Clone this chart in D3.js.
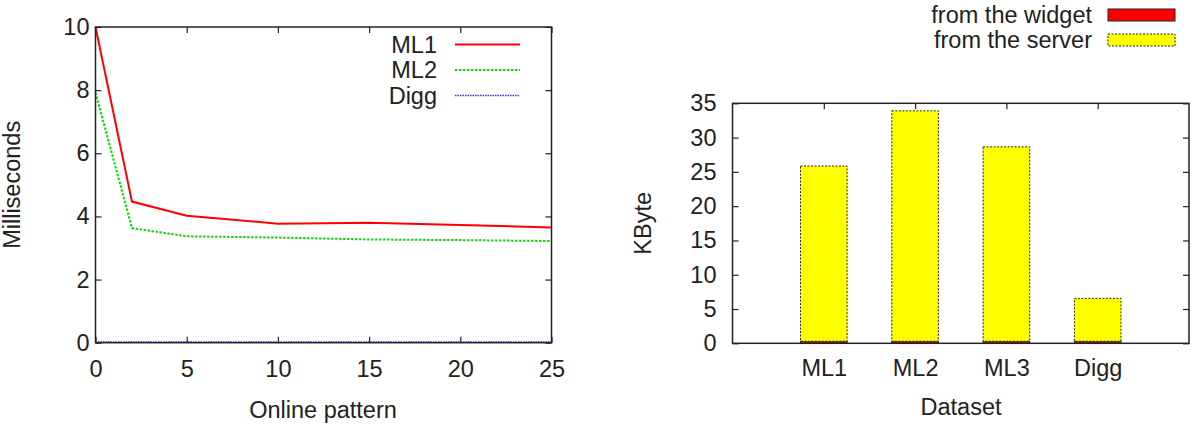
<!DOCTYPE html>
<html>
<head>
<meta charset="utf-8">
<script src="https://cdn.jsdelivr.net/npm/d3@7"></script>
<style>
  body { margin: 0; background: #fff; }
  svg { display: block; }
  svg text { font-family: "Liberation Sans", Arial, sans-serif; font-size: 23.5px; fill: #222; }
</style>
</head>
<body>
<div id="chart"></div>
<script>
// left chart: lookup time per online pattern
const patterns = [0, 2, 5, 10, 15, 20, 25];
const ml1 = [10, 4.47, 4.02, 3.77, 3.80, 3.73, 3.65];
const ml2 = [7.92, 3.63, 3.37, 3.33, 3.27, 3.25, 3.22];
const digg = [0.02, 0.02, 0.02, 0.02, 0.02, 0.02, 0.02];
const lineTicksX = [0, 5, 10, 15, 20, 25];
const lineTicksY = [0, 2, 4, 6, 8, 10];

// right chart: traffic per dataset
const datasets = ["ML1", "ML2", "ML3", "Digg"];
const fromWidget = [0.3, 0.3, 0.3, 0.3];
const fromServer = [25.55, 33.6, 28.35, 6.25];
const barTicksY = [0, 5, 10, 15, 20, 25, 30, 35];

const svg = d3.select("#chart").append("svg")
  .attr("width", 1201)
  .attr("height", 432);

const tickLen = 6;

// ---------- line chart ----------
const L = { left: 95.5, right: 551.5, top: 27, bottom: 342.7 };

const x = d3.scaleLinear().domain([0, 25]).range([L.left, L.right]);
const y = d3.scaleLinear().domain([0, 10]).range([L.bottom, L.top]);

const left = svg.append("g");

// inward ticks on all four sides, like gnuplot
left.append("g")
  .attr("transform", `translate(0,${L.bottom})`)
  .call(d3.axisBottom(x).tickValues(lineTicksX).tickSize(-tickLen).tickPadding(18))
  .call(g => g.select(".domain").remove());
left.append("g")
  .attr("transform", `translate(0,${L.top})`)
  .call(d3.axisTop(x).tickValues(lineTicksX).tickSize(-tickLen).tickFormat(""))
  .call(g => g.select(".domain").remove());
left.append("g")
  .attr("transform", `translate(${L.left},0)`)
  .call(d3.axisLeft(y).tickValues(lineTicksY).tickSize(-tickLen).tickPadding(6))
  .call(g => g.select(".domain").remove());
left.append("g")
  .attr("transform", `translate(${L.right},0)`)
  .call(d3.axisRight(y).tickValues(lineTicksY).tickSize(-tickLen).tickFormat(""))
  .call(g => g.select(".domain").remove());
left.selectAll(".tick line").attr("stroke", "#222").attr("stroke-width", 1.2);

const lineSeries = [
  { name: "ML1", values: ml1, color: "#ff0000", dash: null, width: 2 },
  { name: "ML2", values: ml2, color: "#00e000", dash: "2.5,1.5", width: 2 },
  { name: "Digg", values: digg, color: "#3030ff", dash: "1.5,1", width: 1.6 }
];

const line = d3.line()
  .x((d, i) => x(patterns[i]))
  .y(d => y(d));

left.selectAll(".series")
  .data(lineSeries)
  .join("path")
  .attr("class", "series")
  .attr("fill", "none")
  .attr("stroke", d => d.color)
  .attr("stroke-width", d => d.width)
  .attr("stroke-dasharray", d => d.dash)
  .attr("d", d => line(d.values));

left.append("rect")
  .attr("x", L.left).attr("y", L.top)
  .attr("width", L.right - L.left).attr("height", L.bottom - L.top)
  .attr("fill", "none").attr("stroke", "#222").attr("stroke-width", 1.5);

// legend
const lg = left.append("g");
lineSeries.forEach((s, i) => {
  const ly = 44.5 + i * 25.5;
  lg.append("text")
    .attr("x", 437).attr("y", ly).attr("dy", "0.36em")
    .attr("text-anchor", "end").text(s.name);
  lg.append("line")
    .attr("x1", 455).attr("x2", 520).attr("y1", ly).attr("y2", ly)
    .attr("stroke", s.color).attr("stroke-width", s.width)
    .attr("stroke-dasharray", s.dash);
});

left.append("text")
  .attr("x", 323).attr("y", 410).attr("dy", "0.36em")
  .attr("text-anchor", "middle").text("Online pattern");
left.append("text")
  .attr("transform", `translate(12,${(L.top + L.bottom) / 2}) rotate(-90)`)
  .attr("dy", "0.36em")
  .attr("text-anchor", "middle").text("Milliseconds");

// ---------- stacked bar chart ----------
const B = { left: 732.5, right: 1189, top: 103.3, bottom: 343.3 };

const xb = d3.scaleLinear().domain([-1, 4]).range([B.left, B.right]);
const yb = d3.scaleLinear().domain([0, 35]).range([B.bottom, B.top]);
const barW = 0.51;

const right = svg.append("g");

right.append("g")
  .attr("transform", `translate(${B.left},0)`)
  .call(d3.axisLeft(yb).tickValues(barTicksY).tickSize(-tickLen).tickPadding(16))
  .call(g => g.select(".domain").remove());
right.append("g")
  .attr("transform", `translate(${B.right},0)`)
  .call(d3.axisRight(yb).tickValues(barTicksY).tickSize(-tickLen).tickFormat(""))
  .call(g => g.select(".domain").remove());
right.append("g")
  .attr("transform", `translate(0,${B.top})`)
  .call(d3.axisTop(xb).tickValues(d3.range(datasets.length)).tickSize(-tickLen).tickFormat(""))
  .call(g => g.select(".domain").remove());
right.append("g")
  .attr("transform", `translate(0,${B.bottom})`)
  .call(d3.axisBottom(xb).tickValues(d3.range(datasets.length)).tickSize(0).tickPadding(16)
    .tickFormat(i => datasets[i]))
  .call(g => g.select(".domain").remove());
right.selectAll(".tick line").attr("stroke", "#222").attr("stroke-width", 1.2);

const rows = datasets.map((name, i) => ({ name, idx: i, widget: fromWidget[i], server: fromServer[i] }));
const stack = d3.stack().keys(["widget", "server"])(rows);
const barStyle = {
  widget: { fill: "#ff0000", dash: null },
  server: { fill: "#ffff00", dash: "2,1.5" }
};

right.selectAll(".layer")
  .data(stack)
  .join("g")
  .attr("class", "layer")
  .selectAll("rect")
  .data(d => d.map(v => Object.assign(v, { key: d.key })))
  .join("rect")
  .attr("x", d => xb(d.data.idx - barW / 2))
  .attr("width", d => xb(barW) - xb(0))
  .attr("y", d => yb(d[1]))
  .attr("height", d => yb(d[0]) - yb(d[1]))
  .attr("fill", d => barStyle[d.key].fill)
  .attr("stroke", "#222")
  .attr("stroke-width", 1)
  .attr("stroke-dasharray", d => barStyle[d.key].dash);

right.append("rect")
  .attr("x", B.left).attr("y", B.top)
  .attr("width", B.right - B.left).attr("height", B.bottom - B.top)
  .attr("fill", "none").attr("stroke", "#222").attr("stroke-width", 1.5);

// legend
const legendItems = [
  { label: "from the widget", key: "widget", y: 15 },
  { label: "from the server", key: "server", y: 40 }
];
legendItems.forEach(it => {
  right.append("text")
    .attr("x", 1092).attr("y", it.y).attr("dy", "0.36em")
    .attr("text-anchor", "end").text(it.label);
  right.append("rect")
    .attr("x", 1108).attr("y", it.y - 6).attr("width", 67).attr("height", 12)
    .attr("fill", barStyle[it.key].fill)
    .attr("stroke", "#222").attr("stroke-width", 1)
    .attr("stroke-dasharray", barStyle[it.key].dash);
});

right.append("text")
  .attr("x", 961).attr("y", 407).attr("dy", "0.36em")
  .attr("text-anchor", "middle").text("Dataset");
right.append("text")
  .attr("transform", `translate(643,${(B.top + B.bottom) / 2}) rotate(-90)`)
  .attr("dy", "0.36em")
  .attr("text-anchor", "middle").text("KByte");
</script>
</body>
</html>
